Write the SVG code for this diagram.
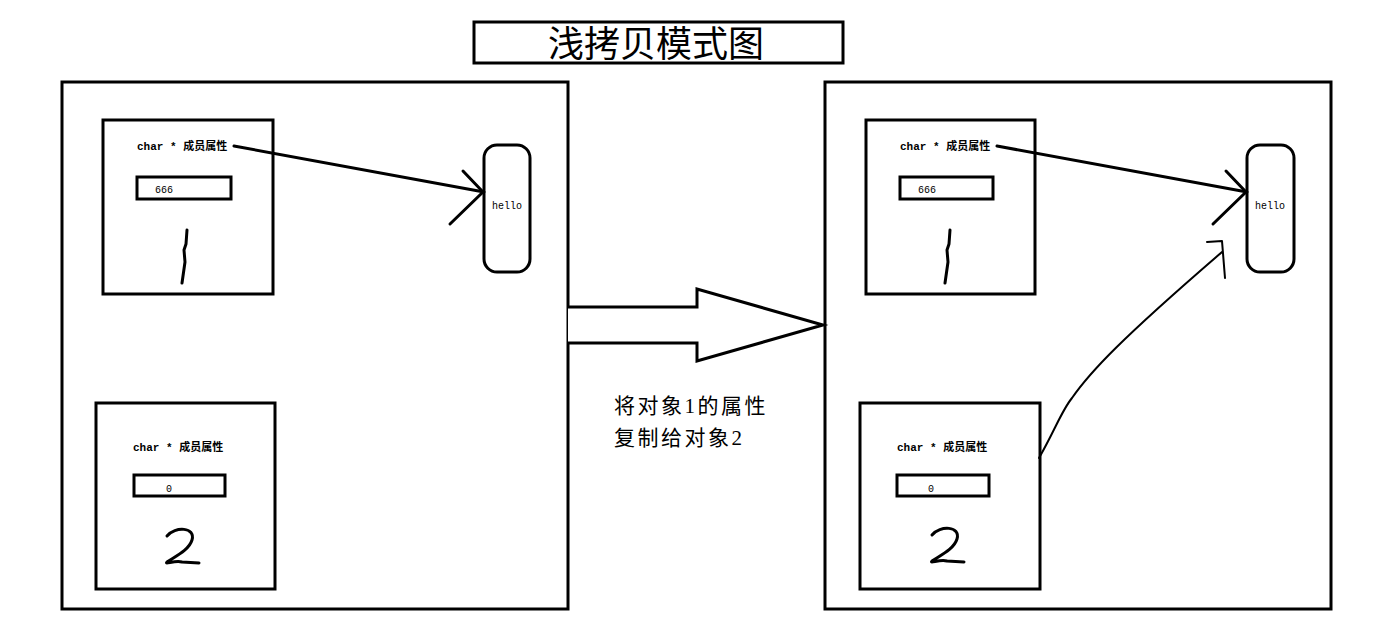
<svg xmlns="http://www.w3.org/2000/svg" width="1400" height="644" viewBox="0 0 1400 644">
<style>
.box{fill:#fff;stroke:#000;stroke-width:3}
.ln{fill:none;stroke:#000;stroke-width:3;stroke-linecap:round;stroke-linejoin:round}
.thin{fill:none;stroke:#000;stroke-width:2;stroke-linecap:round;stroke-linejoin:round}
.lbl{font-family:"Liberation Mono","Noto Sans CJK SC",monospace;font-size:11px;font-weight:bold;fill:#000}
.val{font-family:"Liberation Mono",monospace;font-size:10px;fill:#000}
.cap{font-family:"Liberation Serif","Noto Sans CJK SC",serif;font-size:21px;letter-spacing:2.5px;fill:#000}
</style>
<rect width="1400" height="644" fill="#fff"/>
<g id="title">
<rect x="474" y="22" width="369" height="41" class="box"/>
<text x="656" y="57" text-anchor="middle" style="font-family:'Noto Sans CJK SC',sans-serif;font-size:36px;font-weight:400">浅拷贝模式图</text>
</g>
<g id="left-container"><rect x="62" y="82" width="506" height="527" class="box"/></g>
<g id="right-container"><rect x="825" y="82" width="506" height="527" class="box"/></g>
<g id="left-obj1">
<rect x="103" y="120" width="170" height="174" class="box"/>
<text x="137" y="150" class="lbl">char * 成员属性</text>
<rect x="137" y="177" width="94" height="22" class="box"/>
<text x="155" y="193" class="val">666</text>
<path d="M187 230 L186 244 L184 250 L185 262 L182 283" class="ln"/>
</g>
<g id="left-obj2">
<rect x="96" y="403" width="179" height="186" class="box"/>
<text x="133" y="451" class="lbl">char * 成员属性</text>
<rect x="134" y="475" width="91" height="21" class="box"/>
<text x="166" y="492" class="val">0</text>
<path d="M167 536 C175 526 196 527 192 540 C189 550 176 556 167 562 C164 565 175 560 182 562 L199 563" class="ln" stroke-width="2.5"/>
</g>
<g id="left-hello">
<rect x="484" y="145" width="46" height="127" rx="13" class="box"/>
<text x="507" y="209" text-anchor="middle" class="val">hello</text>
</g>
<g id="right-obj1">
<rect x="866" y="120" width="169" height="174" class="box"/>
<text x="900" y="150" class="lbl">char * 成员属性</text>
<rect x="900" y="177" width="93" height="22" class="box"/>
<text x="918" y="193" class="val">666</text>
<path d="M950 230 L949 244 L947 250 L948 262 L945 283" class="ln"/>
</g>
<g id="right-obj2">
<rect x="860" y="403" width="180" height="186" class="box"/>
<text x="897" y="451" class="lbl">char * 成员属性</text>
<rect x="897" y="475" width="92" height="21" class="box"/>
<text x="928" y="492" class="val">0</text>
<path d="M932 535 C940 525 961 526 957 539 C954 549 941 555 932 561 C929 564 940 559 947 561 L964 562" class="ln" stroke-width="2.5"/>
</g>
<g id="right-hello">
<rect x="1247" y="145" width="47" height="127" rx="13" class="box"/>
<text x="1270" y="209" text-anchor="middle" class="val">hello</text>
</g>
<g id="connectors">
<path d="M234 146 L484 192" class="ln"/>
<path d="M463 171 L483 192 L450 224" class="ln"/>
<path d="M997 146 L1247 192" class="ln"/>
<path d="M1226 171 L1246 192 L1213 224" class="ln"/>
<path d="M1039 458 C1055 430 1062 410 1072 398 C1090 372 1120 340 1222 252" class="thin"/>
<path d="M1207 242 L1222 241 L1225 278" class="thin"/>
<path d="M568 307 L697 307 L697 289 L823 325 L697 361 L697 343 L568 343" class="box"/>
</g>
<g id="caption">
<text x="614" y="413" class="cap">将对象1的属性</text>
<text x="614" y="445" class="cap">复制给对象2</text>
</g>
</svg>
